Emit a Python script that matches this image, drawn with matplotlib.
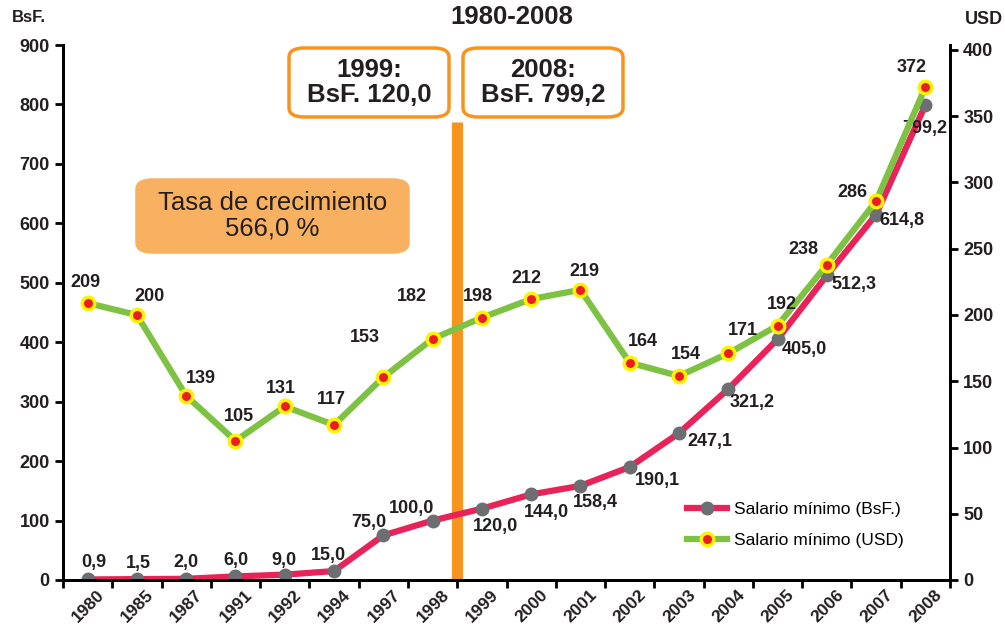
import matplotlib
matplotlib.use("Agg")
import matplotlib.pyplot as plt
import matplotlib.transforms as mtransforms
from matplotlib.patches import FancyBboxPatch
from matplotlib.lines import Line2D

plt.rcParams['font.family'] = ['Liberation Sans', 'DejaVu Sans']

years = ["1980", "1985", "1987", "1991", "1992", "1994", "1997", "1998", "1999",
         "2000", "2001", "2002", "2003", "2004", "2005", "2006", "2007", "2008"]
bsf = [0.9, 1.5, 2.0, 6.0, 9.0, 15.0, 75.0, 100.0, 120.0, 144.0, 158.4, 190.1,
       247.1, 321.2, 405.0, 512.3, 614.8, 799.2]
usd = [209, 200, 139, 105, 131, 117, 153, 182, 198, 212, 219, 164, 154, 171,
       192, 238, 286, 372]

# label offsets in pixels (dx, dy)
bsf_off = [(6, 17), (1, 16), (0, 16), (0, 16), (-1, 14), (-6, 16), (-14, 13), (-21, 12),
           (14, -18), (15, -18), (15, -17), (28, -14), (31, -8), (24, -13), (27, -10),
           (27, -9), (26, -6), (-1, -24)]
usd_off = [(-2, 21), (13, 18), (15, 17), (3, 24), (-4, 18), (-3, 25), (-18, 40), (-21, 42),
           (-4, 21), (-5, 21), (4, 18), (13, 21), (7, 21), (15, 23), (4, 21), (-23, 15),
           (-24, 9), (-14, 20)]

W, H = 1005, 628
fig = plt.figure(figsize=(W / 100, H / 100), dpi=100)
L, R, T, B = 63, 950, 45, 580
ax = fig.add_axes([L / W, 1 - B / H, (R - L) / W, (B - T) / H])
ax2 = ax.twinx()

pink = "#E8235A"
green = "#7DC242"
orange = "#F7941D"
txt = "#231F20"
x = list(range(len(years)))

ax.axvline(7.5, ymin=0, ymax=(B - 122) / (B - T), color=orange, lw=8, zorder=1,
           solid_capstyle="butt")
ax.plot(x, bsf, color=pink, lw=4.5, marker="o", ms=9, mfc="#6D6E71", mec="#6D6E71",
        zorder=3, solid_capstyle="round")
ax2.plot(x, usd, color=green, lw=4.5, marker="o", ms=9, mfc="#ED1C24", mec="#FFF200",
         mew=2.5, zorder=3)

for i, v in enumerate(bsf):
    ax.annotate(f"{v:.1f}".replace(".", ","), (i, v), xytext=bsf_off[i],
                textcoords="offset pixels", ha="center", va="center",
                fontsize=13, fontweight="bold", color=txt, zorder=5)
for i, v in enumerate(usd):
    ax2.annotate(str(v), (i, v), xytext=usd_off[i], textcoords="offset pixels",
                 ha="center", va="center", fontsize=13, fontweight="bold",
                 color=txt, zorder=5)

ax.set_xlim(-0.5, 17.5)
ax.set_ylim(0, 900)
ax2.set_ylim(0, 400 * (B - T) / 530)
ax.set_yticks(range(0, 901, 100))
ax2.set_yticks(range(0, 401, 50))
ax.set_xticks(x)
ax.set_xticks([i + 0.5 for i in range(-1, 18)], minor=True)
ax.tick_params(axis="x", which="major", length=0, pad=5)
ax.tick_params(axis="x", which="minor", length=6, width=2, direction="out")
ax.set_xticklabels(years, rotation=45, ha="right", rotation_mode="anchor",
                   fontsize=12.5, fontweight="bold", color=txt)
offset = mtransforms.ScaledTranslation(9 / 100, 0, fig.dpi_scale_trans)
for lab in ax.get_xticklabels():
    lab.set_transform(lab.get_transform() + offset)
ax.tick_params(axis="y", length=6, width=2, labelsize=13, labelcolor=txt)
ax2.tick_params(axis="y", length=6, width=2, labelsize=13, labelcolor=txt)
for lab in ax.get_yticklabels() + ax2.get_yticklabels():
    lab.set_fontweight("bold")

for a in (ax, ax2):
    a.spines["top"].set_visible(False)
    for s in ("left", "right", "bottom"):
        a.spines[s].set_linewidth(2)
ax.set_zorder(ax2.get_zorder() - 1)
ax.patch.set_visible(True)
ax2.patch.set_visible(False)

fig.text(512 / W, 1 - 17 / H, "1980-2008", ha="center", va="center",
         fontsize=18.5, fontweight="bold", color=txt)
fig.text(29 / W, 1 - 18 / H, "BsF.", ha="center", va="center",
         fontsize=12, fontweight="bold", color=txt)
fig.text(984 / W, 1 - 20 / H, "USD", ha="center", va="center",
         fontsize=13, fontweight="bold", color=txt)


def box(x0, y0, x1, y1, text, fc, ec, weight):
    p = FancyBboxPatch((x0 / W, 1 - y1 / H), (x1 - x0) / W, (y1 - y0) / H,
                       boxstyle="round,pad=0,rounding_size=0.015",
                       transform=fig.transFigure, fc=fc, ec=ec, lw=2.5, zorder=10)
    fig.add_artist(p)
    fig.text((x0 + x1) / 2 / W, 1 - (y0 + y1) / 2 / H, text, ha="center", va="center",
             fontsize=18.5, fontweight=weight, color=txt, linespacing=1.1, zorder=11)


box(289, 48, 449, 117, "1999:\nBsF. 120,0", "white", orange, "bold")
box(463, 48, 623, 117, "2008:\nBsF. 799,2", "white", orange, "bold")
box(137, 180, 408, 252, "Tasa de crecimiento\n566,0 %", "#F8B061", "#F8B061", "normal")

handles = [
    Line2D([], [], color=pink, lw=4.5, marker="o", ms=9, mfc="#6D6E71", mec="#6D6E71"),
    Line2D([], [], color=green, lw=4.5, marker="o", ms=9, mfc="#ED1C24", mec="#FFF200",
           mew=2.5),
]
ax2.legend(handles, ["Salario mínimo (BsF.)", "Salario mínimo (USD)"],
           loc="upper left", bbox_to_anchor=(671 / W, 1 - 486 / H),
           bbox_transform=fig.transFigure, frameon=False, fontsize=12.5, numpoints=1,
           handlelength=2.3, labelspacing=0.95, handletextpad=0.45)

fig.savefig("out.png", dpi=100)
